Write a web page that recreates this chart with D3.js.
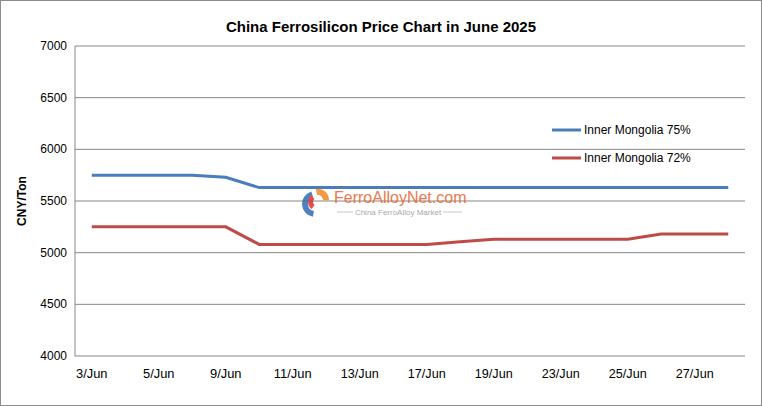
<!DOCTYPE html>
<html><head><meta charset="utf-8">
<script src="https://cdn.jsdelivr.net/npm/d3@7"></script>
<style>body{margin:0;background:#fff}text{font-family:Arial,"Liberation Sans",sans-serif}</style>
</head><body><svg id="c" width="762" height="406"></svg>
<script>
var dates = ["3/Jun","4/Jun","5/Jun","6/Jun","9/Jun","10/Jun","11/Jun","12/Jun","13/Jun","16/Jun",
  "17/Jun","18/Jun","19/Jun","20/Jun","23/Jun","24/Jun","25/Jun","26/Jun","27/Jun","30/Jun"];
var im75 = [5750,5750,5750,5750,5730,5630,5630,5630,5630,5630,5630,5630,5630,5630,5630,5630,5630,5630,5630,5630];
var im72 = [5250,5250,5250,5250,5250,5080,5080,5080,5080,5080,5080,5105,5130,5130,5130,5130,5130,5180,5180,5180];
var yTicks = [4000,4500,5000,5500,6000,6500,7000];
var series = [{name:"Inner Mongolia 75%", values:im75, color:"#4a7ebb"},
              {name:"Inner Mongolia 72%", values:im72, color:"#be4b48"}];

var svg = d3.select("#c");
svg.append("rect").attr("x",0.5).attr("y",0.5).attr("width",761).attr("height",405)
  .attr("fill","#fff").attr("stroke","#8c8c8c");

var pl = 75, pr = 745, pt = 46, pb = 356;
var x = d3.scaleBand().domain(dates).range([pl, pr]);
var y = d3.scaleLinear().domain([4000,7000]).range([pb, pt]);

svg.selectAll(".grid").data(yTicks).enter().append("line")
  .attr("x1",pl).attr("x2",pr).attr("y1",d=>y(d)).attr("y2",d=>y(d))
  .attr("stroke","#868686").attr("stroke-width",1);
svg.append("line").attr("x1",pl).attr("x2",pl).attr("y1",pt).attr("y2",pb).attr("stroke","#868686");

svg.selectAll(".yl").data(yTicks).enter().append("text")
  .attr("x",pl-8).attr("y",d=>y(d)+4).attr("text-anchor","end")
  .attr("font-size",12).text(d=>d);
svg.selectAll(".xl").data(dates.filter((d,i)=>i%2==0)).enter().append("text")
  .attr("x",d=>x(d)+x.bandwidth()/2).attr("y",pb+22).attr("text-anchor","middle")
  .attr("font-size",12).attr("textLength",d=>d.length*6.3).attr("lengthAdjust","spacingAndGlyphs").text(d=>d);

svg.append("text").attr("x",381).attr("y",32).attr("text-anchor","middle")
  .attr("font-size",15).attr("font-weight","bold").text("China Ferrosilicon Price Chart in June 2025");
svg.append("text").attr("transform","translate(26,201) rotate(-90)").attr("text-anchor","middle")
  .attr("font-size",12).attr("font-weight","bold").text("CNY/Ton");

// watermark
var wm = svg.append("g").attr("opacity",0.85);
wm.append("path").attr("d",d3.arc()({innerRadius:7,outerRadius:13,startAngle:3.3,endAngle:6.0}))
  .attr("transform","translate(315,204)").attr("fill","#2f6db5");
wm.append("path").attr("d",d3.arc()({innerRadius:5,outerRadius:11,startAngle:-0.2,endAngle:1.6}))
  .attr("transform","translate(318,200)").attr("fill","#f08a24");
wm.append("path").attr("d",d3.arc()({innerRadius:4,outerRadius:9,startAngle:3.8,endAngle:5.6}))
  .attr("transform","translate(317,202)").attr("fill","#d9332b");
wm.append("text").attr("x",334).attr("y",203).attr("font-size",16).attr("fill","#e8642c")
  .text("FerroAlloyNet.com");
wm.append("line").attr("x1",337).attr("x2",353).attr("y1",212).attr("y2",212).attr("stroke","#bbb");
wm.append("line").attr("x1",443).attr("x2",462).attr("y1",212).attr("y2",212).attr("stroke","#bbb");
wm.append("text").attr("x",398).attr("y",215).attr("text-anchor","middle").attr("font-size",8)
  .attr("fill","#999").text("China FerroAlloy Market");

var line = d3.line().x((d,i)=>x(dates[i])+x.bandwidth()/2).y(d=>y(d));
svg.selectAll(".s").data(series).enter().append("path")
  .attr("d",d=>line(d.values)).attr("fill","none").attr("stroke",d=>d.color).attr("stroke-width",3);

var lg = svg.selectAll(".lg").data(series).enter().append("g")
  .attr("transform",(d,i)=>"translate(552,"+(130+i*28)+")");
lg.append("line").attr("x1",0).attr("x2",29).attr("stroke",d=>d.color).attr("stroke-width",3);
lg.append("text").attr("x",32).attr("y",4).attr("font-size",12).text(d=>d.name);
</script></body></html>
